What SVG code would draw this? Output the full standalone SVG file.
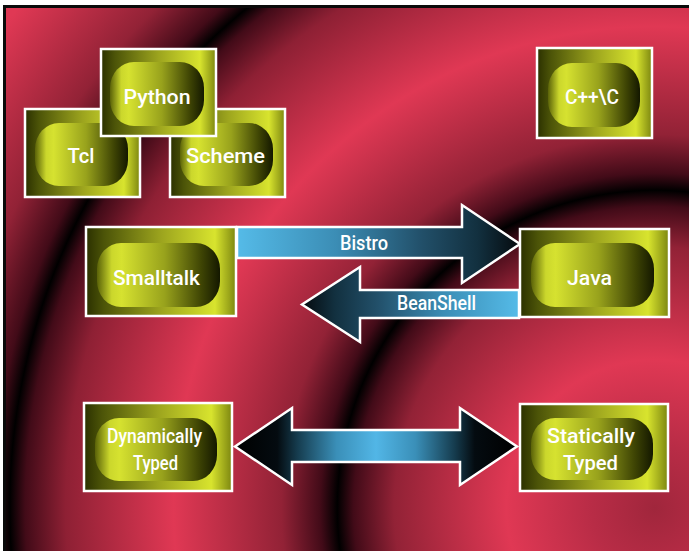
<svg xmlns="http://www.w3.org/2000/svg" width="689" height="551" viewBox="0 0 689 551">
  <defs>
    <!-- concentric crimson bands behind everything -->
    <radialGradient id="bgRings" gradientUnits="userSpaceOnUse" cx="655" cy="508" r="900">
      <stop offset="0" stop-color="#a0263c"/>
      <stop offset="0.07" stop-color="#b82c46"/>
      <stop offset="0.165" stop-color="#e03854"/>
      <stop offset="0.29" stop-color="#922236"/>
      <stop offset="0.335" stop-color="#420b18"/>
      <stop offset="0.353" stop-color="#000000"/>
      <stop offset="0.372" stop-color="#420b18"/>
      <stop offset="0.415" stop-color="#922236"/>
      <stop offset="0.535" stop-color="#e03854"/>
      <stop offset="0.655" stop-color="#8e2034"/>
      <stop offset="0.7" stop-color="#420b18"/>
      <stop offset="0.717" stop-color="#000000"/>
      <stop offset="0.735" stop-color="#420b18"/>
      <stop offset="0.785" stop-color="#922236"/>
      <stop offset="0.9" stop-color="#e03854"/>
      <stop offset="1" stop-color="#e03854"/>
    </radialGradient>

    <!-- node plate and pill shading -->
    <linearGradient id="plate" x1="0" y1="0" x2="1" y2="0">
      <stop offset="0" stop-color="#2b3000"/>
      <stop offset="0.12" stop-color="#4c5408"/>
      <stop offset="0.5" stop-color="#9ca41e"/>
      <stop offset="0.86" stop-color="#d8e42e"/>
      <stop offset="1" stop-color="#7c8610"/>
    </linearGradient>
    <linearGradient id="pill" x1="0" y1="0" x2="1" y2="0">
      <stop offset="0" stop-color="#5a6208"/>
      <stop offset="0.12" stop-color="#cbd72c"/>
      <stop offset="0.2" stop-color="#d6e230"/>
      <stop offset="0.55" stop-color="#98a21c"/>
      <stop offset="0.85" stop-color="#3e4404"/>
      <stop offset="1" stop-color="#141800"/>
    </linearGradient>

    <!-- arrow shading -->
    <linearGradient id="toRight" gradientUnits="userSpaceOnUse" x1="237" y1="0" x2="520" y2="0">
      <stop offset="0" stop-color="#55bbe8"/>
      <stop offset="0.35" stop-color="#3b8db5"/>
      <stop offset="0.65" stop-color="#22506a"/>
      <stop offset="0.85" stop-color="#12303f"/>
      <stop offset="1" stop-color="#050a0e"/>
    </linearGradient>
    <linearGradient id="toLeft" gradientUnits="userSpaceOnUse" x1="519" y1="0" x2="302" y2="0">
      <stop offset="0" stop-color="#55bbe8"/>
      <stop offset="0.35" stop-color="#3b8db5"/>
      <stop offset="0.65" stop-color="#22506a"/>
      <stop offset="0.85" stop-color="#12303f"/>
      <stop offset="1" stop-color="#050a0e"/>
    </linearGradient>
    <linearGradient id="both" gradientUnits="userSpaceOnUse" x1="235" y1="0" x2="517" y2="0">
      <stop offset="0" stop-color="#000000"/>
      <stop offset="0.15" stop-color="#040b10"/>
      <stop offset="0.22" stop-color="#153b4d"/>
      <stop offset="0.36" stop-color="#3a8fb8"/>
      <stop offset="0.5" stop-color="#52b6e6"/>
      <stop offset="0.64" stop-color="#3a8fb8"/>
      <stop offset="0.78" stop-color="#153b4d"/>
      <stop offset="0.85" stop-color="#040b10"/>
      <stop offset="1" stop-color="#000000"/>
    </linearGradient>
  </defs>

  <style>
    .plate { fill: url(#plate); stroke: #ffffff; stroke-width: 2.5; }
    .pill { fill: url(#pill); }
    .arrow { stroke: #ffffff; stroke-width: 2.5; stroke-linejoin: miter; }
    .label { font-family: Roboto, "Liberation Sans", Arial, sans-serif; font-weight: 500; font-size: 20px; fill: #ffffff; text-anchor: middle; }
  </style>

  <!-- backdrop and frame -->
  <rect x="0" y="0" width="689" height="551" fill="#ffffff"/>
  <rect x="3" y="5" width="686" height="546" fill="#0a0a0a"/>
  <rect x="6" y="8" width="683" height="543" fill="url(#bgRings)"/>

  <!-- connectors -->
  <g id="connectors">
    <g id="bistro">
      <polygon class="arrow" fill="url(#toRight)" points="237,227 462,227 462,205 520,244 462,283 462,258 237,258"/>
      <text class="label" x="364" y="250" textLength="48" lengthAdjust="spacingAndGlyphs">Bistro</text>
    </g>
    <g id="beanshell">
      <polygon class="arrow" fill="url(#toLeft)" points="519,290 360,290 360,267 302,304.5 360,342 360,318 519,318"/>
      <text class="label" x="436.5" y="310" textLength="79" lengthAdjust="spacingAndGlyphs">BeanShell</text>
    </g>
    <g id="typing">
      <polygon class="arrow" fill="url(#both)" points="235,446.5 292,408 292,430 460,430 460,408 517,446.5 460,485 460,462 292,462 292,485"/>
    </g>
  </g>

  <!-- nodes -->
  <g id="tcl">
    <rect class="plate" x="25" y="109" width="115" height="88"/>
    <rect class="pill" x="35" y="123" width="93" height="63" rx="24" ry="26"/>
    <text class="label" x="81" y="163" textLength="27" lengthAdjust="spacingAndGlyphs">Tcl</text>
  </g>
  <g id="scheme">
    <rect class="plate" x="170" y="109" width="115" height="88"/>
    <rect class="pill" x="180" y="123" width="93" height="63" rx="24" ry="26"/>
    <text class="label" x="225.5" y="163" textLength="79" lengthAdjust="spacingAndGlyphs">Scheme</text>
  </g>
  <g id="python">
    <rect class="plate" x="101" y="49" width="115" height="87"/>
    <rect class="pill" x="110" y="62" width="94" height="64" rx="24" ry="26"/>
    <text class="label" x="157" y="104" textLength="67" lengthAdjust="spacingAndGlyphs">Python</text>
  </g>
  <g id="cpp">
    <rect class="plate" x="537" y="48" width="115" height="90"/>
    <rect class="pill" x="548" y="63" width="92" height="64" rx="24" ry="26"/>
    <text class="label" x="592" y="104" textLength="54" lengthAdjust="spacingAndGlyphs">C++\C</text>
  </g>
  <g id="smalltalk">
    <rect class="plate" x="86" y="227" width="150" height="89"/>
    <rect class="pill" x="97" y="243" width="123" height="64" rx="24" ry="26"/>
    <text class="label" x="156.5" y="285" textLength="87" lengthAdjust="spacingAndGlyphs">Smalltalk</text>
  </g>
  <g id="java">
    <rect class="plate" x="520" y="229" width="149" height="88"/>
    <rect class="pill" x="531" y="243" width="123" height="64" rx="24" ry="26"/>
    <text class="label" x="589.5" y="285" textLength="45" lengthAdjust="spacingAndGlyphs">Java</text>
  </g>
  <g id="dynamic">
    <rect class="plate" x="84" y="403" width="148" height="88"/>
    <rect class="pill" x="95" y="418" width="122" height="63" rx="24" ry="26"/>
    <text class="label" x="154.5" y="443" textLength="95" lengthAdjust="spacingAndGlyphs">Dynamically</text>
    <text class="label" x="155.5" y="470" textLength="45" lengthAdjust="spacingAndGlyphs">Typed</text>
  </g>
  <g id="static">
    <rect class="plate" x="520" y="404" width="148" height="87"/>
    <rect class="pill" x="531" y="418" width="122" height="62" rx="24" ry="26"/>
    <text class="label" x="591" y="443" textLength="88" lengthAdjust="spacingAndGlyphs">Statically</text>
    <text class="label" x="590.5" y="470" textLength="55" lengthAdjust="spacingAndGlyphs">Typed</text>
  </g>
</svg>
